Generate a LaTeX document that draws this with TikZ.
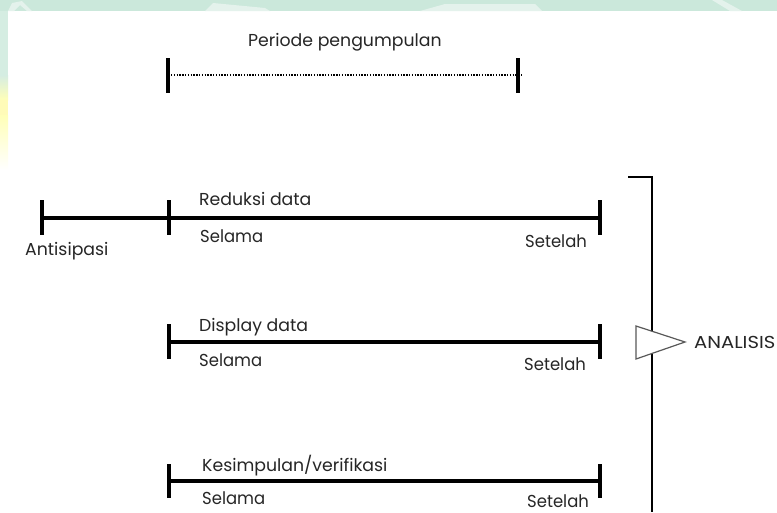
\documentclass[tikz,border=0pt]{standalone}
\usepackage{fontspec}
\setmainfont{Poppins}
\newfontfamily\widefont[FakeStretch=1.13]{Poppins}
\newfontfamily\narrowfont[FakeStretch=0.95]{Poppins}
\definecolor{mintband}{HTML}{CBE8DB}
\definecolor{paleblob}{HTML}{E4F2EC}
\definecolor{ink}{HTML}{262626}
\begin{document}
\begin{tikzpicture}[x=1pt,y=-1pt,
  lbl/.style={anchor=base west,inner sep=0pt,font=\fontsize{17.3}{19}\selectfont,text=ink},
  narrowlbl/.style={lbl,font=\narrowfont\fontsize{17.3}{19}\selectfont},
  tickmark/.style={draw=black,line width=3.1pt},
  barline/.style={draw=black,line width=3.1pt},
  dotline/.style={draw=black,line width=1.3pt,dash pattern=on 1.3pt off 1.5pt}]
\useasboundingbox (0,0) rectangle (777,512);
\fill[white] (0,0) rectangle (777,512);
\fill[mintband!80!white] (0,0) rectangle (8,75);
\shade[top color=mintband!80!white,bottom color=yellow!28!white] (0,75) rectangle (8,100);
\shade[top color=yellow!28!white,bottom color=white] (0,115) rectangle (8,170);
\fill[yellow!28!white] (0,100) rectangle (8,115);
\fill[mintband] (0,0) rectangle (777,11);
\fill[paleblob] (205,11) -- (213,3) -- (265,8) -- (270,11) -- cycle;
\fill[paleblob] (420,11) -- (445,4) -- (535,4) -- (542,11) -- cycle;
\fill[paleblob] (712,0) -- (722,0) -- (742,11) -- (730,11) -- cycle;
\fill[paleblob] (8,11) -- (12,3) -- (22,1) -- (32,11) -- (27,11) -- (20,5) -- (14,11) -- cycle;
% Periode
\coordinate (pe) at (523,75);
\coordinate (ps) at (171,75);
\draw[tickmark] (168,58) -- (168,93);
\draw[tickmark] (518,58) -- (518,93);
\draw[dotline] (ps) -- (pe);
\node[lbl] (periode) at (248,46) {Periode pengumpulan};
% Reduksi
\coordinate (a0) at (42,218); \coordinate (a2) at (600,218);
\draw[barline] (a0) -- (a2);
\draw[tickmark] (42,200) -- (42,235);
\draw[tickmark] (169,200) -- (169,235);
\draw[tickmark] (600,200) -- (600,235);
\node[lbl] (reduksi) at (199,205) {Reduksi data};
\node[narrowlbl] (selamaa) at (200,242) {Selama};
\node[lbl] (antisipasi) at (25,255) {Antisipasi};
\node[narrowlbl] (setelaha) at (525,247) {Setelah};
% Display
\coordinate (b1) at (169,342); \coordinate (b2) at (600,342);
\draw[barline] (b1) -- (b2);
\draw[tickmark] (169,324) -- (169,359);
\draw[tickmark] (600,324) -- (600,359);
\node[lbl] (display) at (199,331) {Display data};
\node[narrowlbl] (selamab) at (199,366) {Selama};
\node[narrowlbl] (setelahb) at (524,370) {Setelah};
% Kesimpulan
\coordinate (c1) at (169,481); \coordinate (c2) at (600,481);
\draw[barline] (c1) -- (c2);
\draw[tickmark] (169,464) -- (169,498);
\draw[tickmark] (600,464) -- (600,498);
\node[lbl] (kesimpulan) at (202,471) {Kesimpulan/verifikasi};
\node[narrowlbl] (selamac) at (202,504) {Selama};
\node[narrowlbl] (setelahc) at (527,507) {Setelah};
% Bracket
\coordinate (k1) at (628,177); \coordinate (k2) at (652,177); \coordinate (k3) at (652,512);
\draw[black,line width=1.8pt] (k1) -- (k2) -- (k3);
\draw[fill=white,draw=black!65,line width=1.2pt,line join=miter] (636,326) -- (636,359) -- (685,342) -- cycle;
\node[lbl,font=\widefont\fontsize{17.3}{19}\selectfont] (analisis) at (694,348) {ANALISIS};
\end{tikzpicture}
\end{document}
